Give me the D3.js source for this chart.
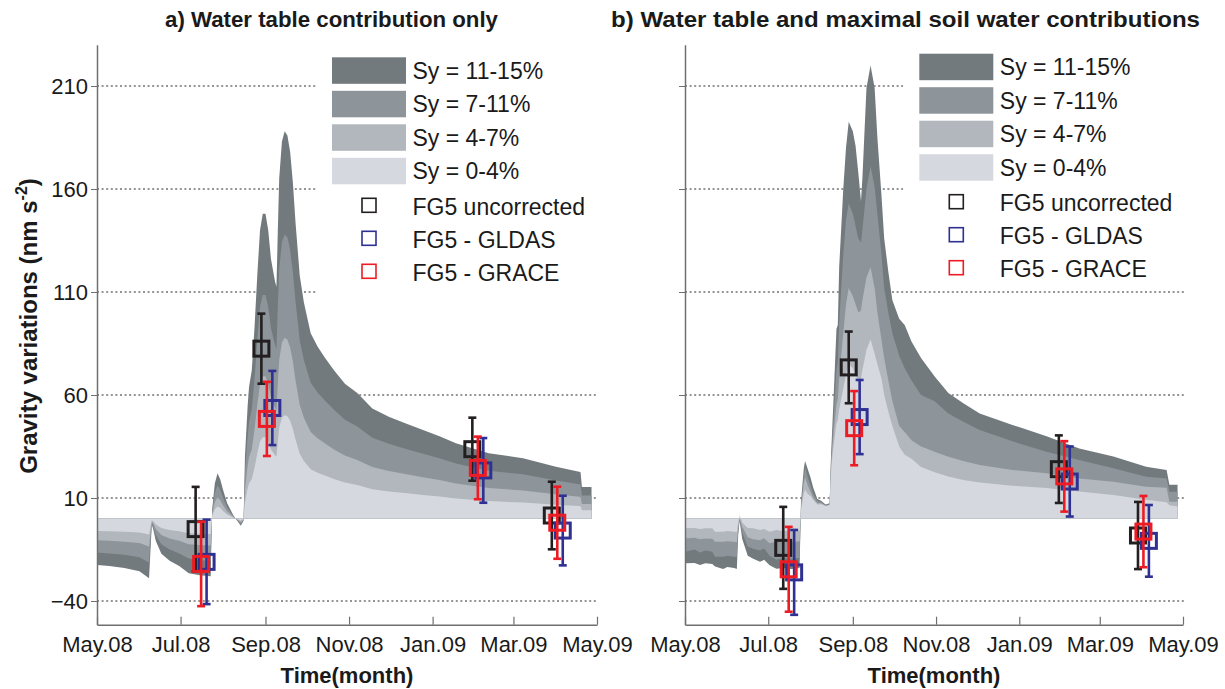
<!DOCTYPE html>
<html>
<head>
<meta charset="utf-8">
<script src="https://cdn.jsdelivr.net/npm/d3@7"></script>
<style>
  body { margin: 0; background: #ffffff; }
  svg { display: block; font-family: "Liberation Sans", Arial, Helvetica, sans-serif; }
</style>
</head>
<body>
<svg id="chart" width="1225" height="689"></svg>
<script>
// ---------------- data ----------------
// Panel a: water table contribution only (gravity, nm s-2) for the upper bound of each Sy class
const datesA = ["2008-05-01","2008-05-10","2008-05-21","2008-06-01","2008-06-08","2008-06-10","2008-06-11","2008-06-13","2008-06-17","2008-06-23","2008-06-30","2008-07-07","2008-07-15","2008-07-23","2008-07-24","2008-07-26","2008-07-28","2008-07-30","2008-08-01","2008-08-04","2008-08-09","2008-08-14","2008-08-16","2008-08-17","2008-08-19","2008-08-20","2008-08-22","2008-08-24","2008-08-26","2008-08-28","2008-08-30","2008-09-01","2008-09-03","2008-09-05","2008-09-08","2008-09-09","2008-09-10","2008-09-11","2008-09-13","2008-09-15","2008-09-17","2008-09-19","2008-09-21","2008-09-23","2008-09-26","2008-09-29","2008-10-04","2008-10-09","2008-10-14","2008-10-21","2008-10-29","2008-11-07","2008-11-18","2008-11-30","2008-12-12","2008-12-25","2009-01-06","2009-01-18","2009-02-11","2009-03-08","2009-04-01","2009-04-18","2009-04-19","2009-04-20","2009-04-27"];
const syA15 = [-22.5,-23,-24,-25.5,-29,-3,-5,-11,-17,-20.5,-23,-26.5,-27.5,-28,4,17,22,19,14,7.5,1,-3.5,-1,30,55,64,72,93,118,140,148,148,140,126,115,112.5,140,165,183,188,186,178,163,143,118,105,90,83.5,78.5,72,65.5,61,53.5,49.5,46.3,43,40,36.6,31.7,29.3,25.2,22.8,22.5,15.3,15.3];
const syA11 = [-16.5,-16.9,-17.6,-18.7,-21.3,-2.2,-3.7,-8.1,-12.5,-15,-16.9,-19.4,-20.2,-20.5,2.9,12.5,16.1,13.9,10.3,5.5,0.7,-2.6,-0.7,22,40.3,46.9,52.8,68.2,86.5,102.7,108.5,108.5,102.7,92.4,84.3,82.5,102.7,121,134.2,137.9,136.4,130.5,119.5,104.9,86.5,77,66,61.2,57.6,52.8,48,44.7,39.2,36.3,33.9,31.5,29.3,26.8,23.2,21.5,18.5,16.7,16.5,11.2,11.2];
const syA7 = [-10.5,-10.7,-11.2,-11.9,-13.5,-1.4,-2.3,-5.1,-7.9,-9.6,-10.7,-12.4,-12.8,-13.1,1.9,7.9,10.3,8.9,6.5,3.5,0.5,-1.6,-0.5,14,25.7,29.9,33.6,43.4,55.1,65.4,69.1,69.1,65.4,58.8,53.7,52.5,65.4,77,85.5,87.8,86.9,83.1,76.1,66.8,55.1,49,42,39,36.7,33.6,30.6,28.5,25,23.1,21.6,20.1,18.7,17.1,14.8,13.7,11.8,10.6,10.5,7.1,7.1];
const syA4 = [-6,-6.1,-6.4,-6.8,-7.7,-0.8,-1.3,-2.9,-4.5,-5.5,-6.1,-7.1,-7.3,-7.5,1.1,4.5,5.9,5.1,3.7,2,0.3,-0.9,-0.3,8,14.7,17.1,19.2,24.8,31.5,37.4,39.5,39.5,37.4,33.6,30.7,30,37.4,44.1,48.9,50.2,49.7,47.5,43.5,38.2,31.5,28,24,22.3,21,19.2,17.5,16.3,14.3,13.2,12.4,11.5,10.7,9.8,8.5,7.8,6.7,6.1,6,4.1,4.1];

// Panel b: water table plus maximal soil water contribution
const datesB = ["2008-05-01","2008-05-08","2008-05-12","2008-05-16","2008-05-21","2008-05-23","2008-05-29","2008-06-01","2008-06-06","2008-06-08","2008-06-09","2008-06-10","2008-06-12","2008-06-16","2008-06-20","2008-06-25","2008-06-28","2008-07-02","2008-07-07","2008-07-12","2008-07-18","2008-07-24","2008-07-25","2008-07-27","2008-07-28","2008-07-30","2008-08-01","2008-08-03","2008-08-06","2008-08-09","2008-08-12","2008-08-15","2008-08-16","2008-08-17","2008-08-18","2008-08-20","2008-08-21","2008-08-22","2008-08-25","2008-08-27","2008-08-29","2008-09-01","2008-09-03","2008-09-05","2008-09-07","2008-09-08","2008-09-11","2008-09-14","2008-09-17","2008-09-19","2008-09-22","2008-09-24","2008-09-27","2008-09-30","2008-10-05","2008-10-09","2008-10-14","2008-10-21","2008-10-31","2008-11-10","2008-11-21","2008-12-03","2008-12-27","2009-01-21","2009-02-14","2009-03-11","2009-04-04","2009-04-19","2009-04-21","2009-04-27"];
const syB15 = [-21.7,-21.5,-22.5,-21.7,-22,-23.3,-24.5,-23.5,-24,-24.5,-8,-1,-10,-18,-19.5,-21,-20,-22.7,-24.4,-24,-24.5,-24,8,24,28,24,20,15,9.5,8.5,6.8,7.5,30,45,60,92,94,122,160,180,192.7,188,181,168,154,165,209,220,209,185,157,136,120,106,97,94,86,78,69,61,56,51,45.5,40,34,30.1,25.2,23.6,16.4,16.4];
const syB11 = [-16.1,-15,-16.5,-15.5,-16.1,-18.5,-18.5,-18,-18.5,-18.5,-6,-0.5,-7,-13.5,-14.6,-15.5,-14.5,-18,-20,-19,-19.5,-19,6,20,25,20,16,12,8.5,8,6.5,7,28,38,50,72,76,95,128,145,153,148,142,136,134,140,160,171,161,148,128,112,100,90,79,73,67,60,57,51,47,43,37.5,32.5,28.4,24.4,20.3,19.5,13,13];
const syB7 = [-9.6,-9.3,-10,-9.6,-9.8,-11.2,-11.2,-11,-11.2,-11.5,-4,0,-4,-9,-10,-10.5,-9.5,-12,-11.2,-11,-11.5,-11,5,17,20,16,13,10,7.5,7.5,6.2,6.8,25,34,42,55,58,68,90,104,112,108,104,100,101,106,117,122,112,100,87,78,67,57,45,42,38,35,32.5,30,28,26,23.6,22,19.5,17.9,15.5,15,8.2,8.2];
const syB4 = [-4.7,-4.5,-5,-4.7,-4.7,-6.4,-6.4,-6,-6.4,-6.5,-2,2,-2,-4.5,-4.7,-5.5,-5,-6.4,-5.5,-6,-6,-6,4,12,14,12,11,9,6.8,7,6,6.5,22,30,36,46,48,53,63,70,75,73,70,67,68,72,82,87,80,75,68,60,52,45,35,31,29,25,22.5,20.5,18.8,17.5,16,14.8,13.1,11.5,9.1,8,6.5,5.9];

// Absolute gravity (FG5) campaigns and corrected values, with 1-sigma error bars
const fg5Dates = ["2008-07-16","2008-09-02","2009-02-03","2009-04-02"];
const uncorrA = [-5.1, 82.5, 33.7, 1.5],   uncorrErrA = [20.5, 17, 15.3, 16.4];
const gldasA  = [-21, 53.7, 23.4, -5.8],   gldasErrA  = [20.5, 18, 15.7, 16.9];
const graceA  = [-22, 48.4, 24.6, -2],     graceErrA  = [20.5, 18, 15.2, 17.5];
const uncorrB = [-14.2, 73.4, 24, -8.2],   uncorrErrB = [19.9, 17.4, 16.4, 16.3];
const gldasB  = [-26.1, 49.3, 18, -10.8],  gldasErrB  = [20.6, 18, 17, 17.4];
const graceB  = [-24.6, 43.9, 20.5, -6.3], graceErrB  = [20.6, 18, 17.1, 17.3];

const bandLabels = ["Sy = 11-15%", "Sy = 7-11%", "Sy = 4-7%", "Sy = 0-4%"];
const bandColors = ["#737a7d", "#8e959a", "#b1b7bd", "#d5d9df"];
const pointLabels = ["FG5 uncorrected", "FG5 - GLDAS", "FG5 - GRACE"];
const pointColors = ["#231f20", "#2e3192", "#ed1c24"];
const pointShiftDays = [-4, 4, 0];

const yTicks = [-40, 10, 60, 110, 160, 210];
const xTickDates = ["2008-05-01","2008-07-01","2008-09-01","2008-11-01","2009-01-01","2009-03-01","2009-05-01"];
const xTickLabels = ["May.08","Jul.08","Sep.08","Nov.08","Jan.09","Mar.09","May.09"];

// ---------------- drawing ----------------
const parse = d3.timeParse("%Y-%m-%d");
const svg = d3.select("#chart");
const axisColor = "#6f6f6f";
const textColor = "#1a1a1a";

const y = d3.scaleLinear().domain([-51.5, 230]).range([624.7, 44.8]);

function drawPanel(p) {
  const x = d3.scaleTime()
    .domain([parse("2008-05-01"), parse("2009-05-01")])
    .range(p.xRange);
  const g = svg.append("g");

  // dotted horizontal gridlines
  g.append("g").selectAll("line").data(yTicks).join("line")
    .attr("x1", p.xRange[0]).attr("x2", p.xRange[1] + 1)
    .attr("y1", d => y(d)).attr("y2", d => y(d))
    .attr("stroke", "#2a2a2a").attr("stroke-width", 1)
    .attr("stroke-dasharray", "2,2.6");

  // stacked Sy bands, widest range first so lighter classes sit on top
  const rows = p.dates.map(parse);
  const area = d3.area()
    .x((d, i) => x(rows[i]))
    .y0(y(0))
    .y1(d => y(d));
  p.bands.forEach((vals, i) => {
    g.append("path")
      .datum(vals)
      .attr("d", area)
      .attr("fill", bandColors[i]);
  });

  // axes
  const yAxis = d3.axisLeft(y).tickValues(yTicks).tickSizeInner(6).tickSizeOuter(0).tickPadding(3)
    .tickFormat(p.yLabels ? d3.format("d") : () => "");
  const ya = g.append("g").attr("transform", `translate(${p.xRange[0]},0)`).call(yAxis);
  ya.select(".domain").attr("stroke", axisColor).attr("stroke-width", 1.5);
  ya.selectAll(".tick line").attr("stroke", axisColor).attr("stroke-width", 1);
  ya.selectAll(".tick text").attr("font-size", 22).attr("fill", textColor)
    .attr("font-family", "Liberation Sans, Arial, sans-serif");

  const xAxis = d3.axisBottom(x)
    .tickValues(xTickDates.map(parse))
    .tickFormat((d, i) => xTickLabels[i])
    .tickSizeInner(-8).tickSizeOuter(0).tickPadding(11.5);
  const xa = g.append("g").attr("transform", `translate(0,${y(-51.5)})`).call(xAxis);
  xa.select(".domain").attr("stroke", axisColor).attr("stroke-width", 1.5);
  xa.selectAll(".tick line").attr("stroke", axisColor).attr("stroke-width", 1.2);
  xa.selectAll(".tick text").attr("font-size", 22).attr("fill", textColor)
    .attr("font-family", "Liberation Sans, Arial, sans-serif");

  // FG5 points with error bars
  p.points.forEach((s, k) => {
    const sg = g.append("g").attr("stroke", pointColors[k]).attr("fill", "none");
    fg5Dates.forEach((ds, i) => {
      const cx = x(d3.timeDay.offset(parse(ds), pointShiftDays[k]));
      const v = s.values[i], e = s.errs[i];
      const yt = y(v + e), yb = y(v - e), cy = y(v);
      sg.append("line").attr("x1", cx).attr("x2", cx).attr("y1", yt).attr("y2", yb).attr("stroke-width", 2.6);
      [yt, yb].forEach(yy => sg.append("line").attr("x1", cx - 4).attr("x2", cx + 4)
        .attr("y1", yy).attr("y2", yy).attr("stroke-width", 2.6));
      sg.append("rect").attr("x", cx - 7.5).attr("y", cy - 7.5).attr("width", 15).attr("height", 15)
        .attr("stroke-width", 3);
    });
  });

  // legend with white backdrop
  const L = p.legend;
  g.append("rect").attr("x", L.x - 16).attr("y", 46).attr("width", L.boxW).attr("height", L.boxBottom - 46)
    .attr("fill", "#ffffff");
  bandLabels.forEach((lab, i) => {
    const top = L.y + i * 33.5;
    g.append("rect").attr("x", L.x).attr("y", top).attr("width", 74).attr("height", 26.5)
      .attr("fill", bandColors[i]);
    g.append("text").attr("x", L.x + 80.5).attr("y", top + 21.5).text(lab)
      .attr("font-size", 23).attr("fill", textColor);
  });
  pointLabels.forEach((lab, k) => {
    const cy = L.y + 148 + k * 33;
    g.append("rect").attr("x", L.x + 30).attr("y", cy - 7).attr("width", 14).attr("height", 14)
      .attr("fill", "none").attr("stroke", pointColors[k]).attr("stroke-width", 1.6);
    g.append("text").attr("x", L.x + 80.5).attr("y", cy + 9.5).text(lab)
      .attr("font-size", 23).attr("fill", textColor);
  });

  // panel title and x-axis title
  g.append("text").attr("x", p.title.x).attr("y", 27).attr("text-anchor", "start")
    .attr("font-size", 22).attr("font-weight", "bold").attr("fill", textColor)
    .attr("textLength", p.title.w).attr("lengthAdjust", "spacingAndGlyphs")
    .text(p.title.text);
  g.append("text").attr("x", (p.xRange[0] + p.xRange[1]) / 2).attr("y", 683)
    .attr("text-anchor", "middle").attr("font-size", 22).attr("font-weight", "bold")
    .attr("fill", textColor).text("Time(month)");
}

drawPanel({
  xRange: [97, 597],
  dates: datesA,
  bands: [syA15, syA11, syA7, syA4],
  points: [
    { values: uncorrA, errs: uncorrErrA },
    { values: gldasA, errs: gldasErrA },
    { values: graceA, errs: graceErrA }
  ],
  yLabels: true,
  legend: { x: 332, y: 57.3, boxW: 280, boxBottom: 300 },
  title: { text: "a) Water table contribution only", x: 165, w: 333 }
});

drawPanel({
  xRange: [685, 1183],
  dates: datesB,
  bands: [syB15, syB11, syB7, syB4],
  points: [
    { values: uncorrB, errs: uncorrErrB },
    { values: gldasB, errs: gldasErrB },
    { values: graceB, errs: graceErrB }
  ],
  yLabels: false,
  legend: { x: 919.3, y: 53.7, boxW: 290, boxBottom: 284 },
  title: { text: "b) Water table and maximal soil water contributions", x: 611, w: 589 }
});

// y-axis title with superscript
const yt = svg.append("text")
  .attr("transform", "translate(37,326) rotate(-90)")
  .attr("text-anchor", "middle")
  .attr("font-size", 24).attr("font-weight", "bold").attr("fill", textColor);
yt.append("tspan").text("Gravity variations (nm s");
yt.append("tspan").attr("dy", -10).attr("font-size", 16).text("-2");
yt.append("tspan").attr("dy", 10).text(")");
</script>
</body>
</html>
